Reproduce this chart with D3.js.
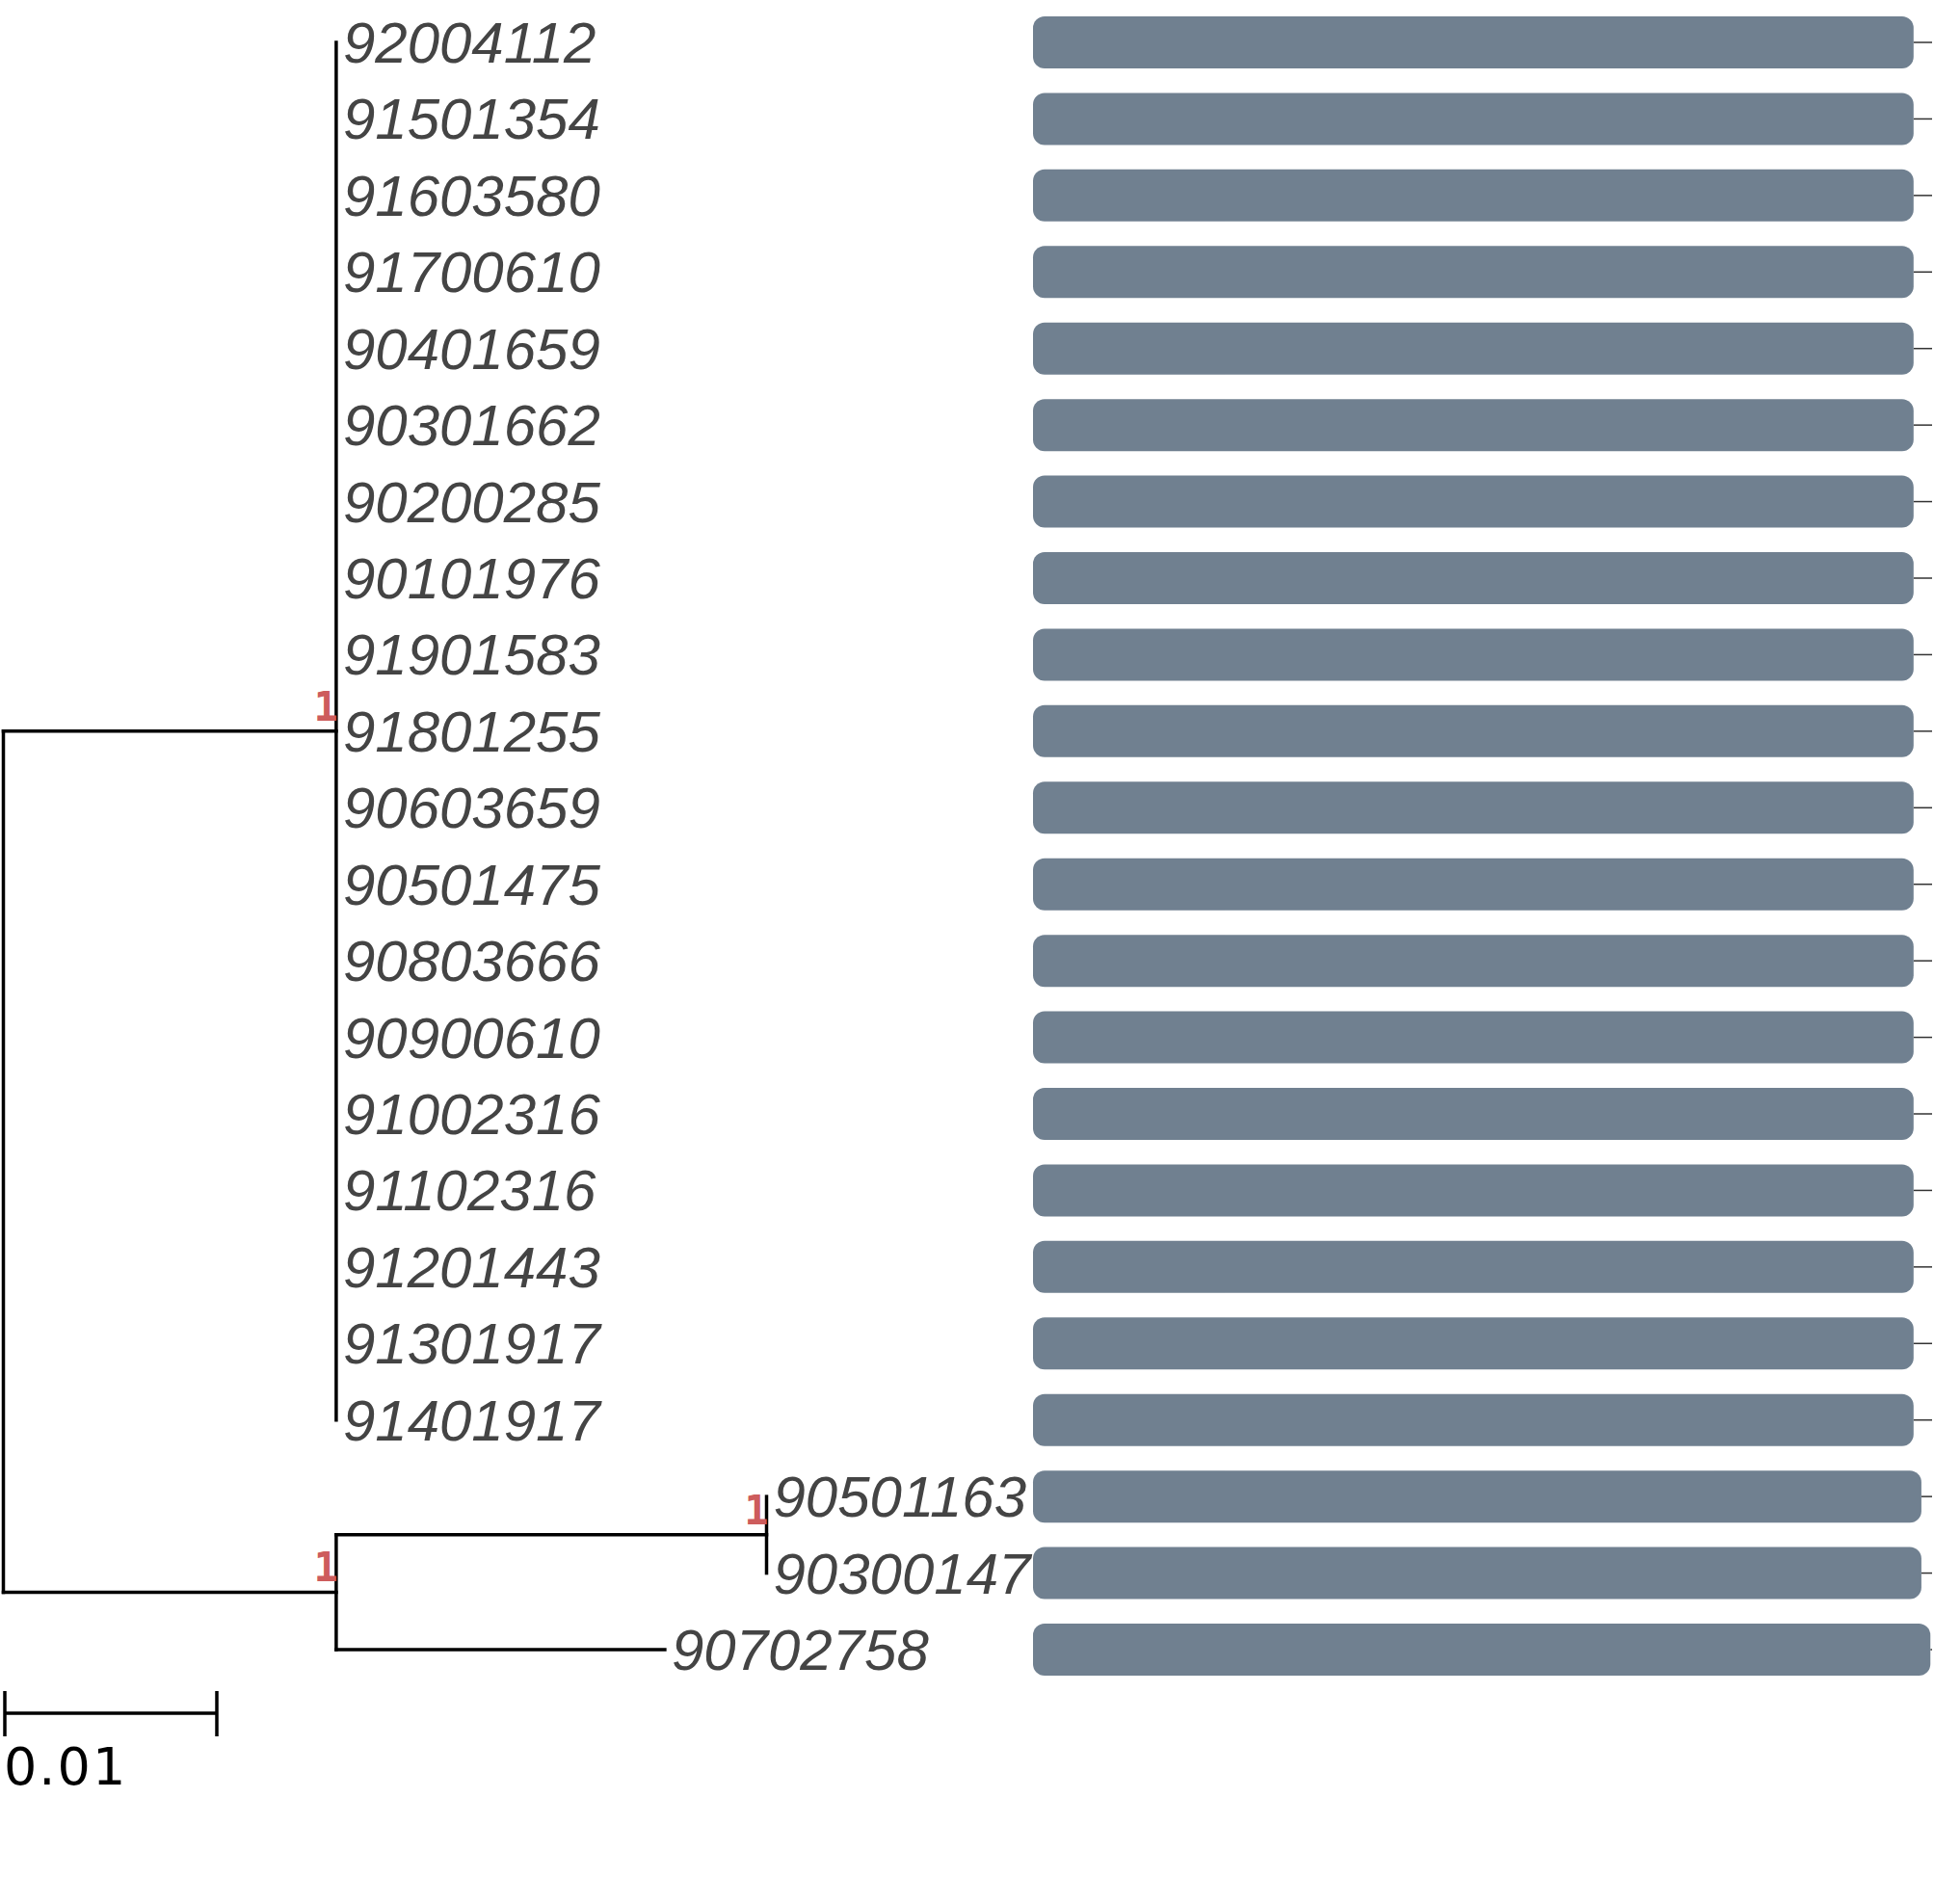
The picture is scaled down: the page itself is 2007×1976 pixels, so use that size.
<!DOCTYPE html>
<html>
<head>
<meta charset="utf-8">
<script src="https://cdn.jsdelivr.net/npm/d3@7"></script>
<style>
  html, body { margin: 0; padding: 0; background: #fff; }
</style>
</head>
<body>
<div id="root"></div>
<script>
// tips from top to bottom
var tipLabels = ['92004112', '91501354', '91603580', '91700610', '90401659', '90301662',
  '90200285', '90101976', '91901583', '91801255', '90603659', '90501475', '90803666',
  '90900610', '91002316', '91102316', '91201443', '91301917', '91401917',
  '90501163', '90300147', '90702758'];

// tree as parent table (internal nodes first), branch lengths in substitutions/site
var nodeIds = ['root', 'A', 'B', 'C'].concat(tipLabels);
var nodeParents = ['', 'root', 'root', 'B',
  'A', 'A', 'A', 'A', 'A', 'A', 'A', 'A', 'A', 'A', 'A', 'A', 'A', 'A', 'A', 'A', 'A', 'A', 'A',
  'C', 'C', 'B'];
var branchLengths = [0, 0.0157, 0.0157, 0.0203,
  0, 0, 0, 0, 0, 0, 0, 0, 0, 0, 0, 0, 0, 0, 0, 0, 0, 0, 0,
  0, 0, 0.0155];

// node support labels
var supportNodes = ['A', 'B', 'C'];
var supportValues = [1, 1, 1];

// bar values per tip (same order as tipLabels)
var barValues = [1466, 1466, 1466, 1466, 1466, 1466, 1466, 1466, 1466, 1466, 1466, 1466,
  1466, 1466, 1466, 1466, 1466, 1466, 1466, 1479, 1479, 1494];

var scaleBarLength = 0.01;

var w = 2007, h = 1976;

var svg = d3.select('#root').append('svg')
  .attr('width', w)
  .attr('height', h)
  .style('display', 'block');

svg.append('rect').attr('width', w).attr('height', h).attr('fill', '#fff');

var table = nodeIds.map(function(d, i) {
  return { id: d, parent: nodeParents[i], len: branchLengths[i] };
});

var tree = d3.stratify()
  .id(function(d) { return d.id; })
  .parentId(function(d) { return d.parent || null; })(table);

var xScale = d3.scaleLinear().domain([0, 0.01]).range([3.5, 223.5]);
var yScale = d3.scaleLinear().domain([0, tipLabels.length - 1]).range([44, 1712]);
var barScale = d3.scaleLinear().domain([0, 1500]).range([1072, 2007]);

// x = cumulative branch length, y = tip order / mean of children
tree.eachBefore(function(n) {
  n.dist = (n.parent ? n.parent.dist : 0) + n.data.len;
});
tree.eachAfter(function(n) {
  if (!n.children) n.row = tipLabels.indexOf(n.id);
  else n.row = d3.mean(n.children, function(c) { return c.row; });
});

var g = svg.append('g');

// horizontal branches
g.selectAll('line.hbranch')
  .data(tree.descendants().filter(function(n) { return n.parent && n.data.len > 0; }))
  .enter().append('line')
  .attr('class', 'hbranch')
  .attr('x1', function(n) { return xScale(n.parent.dist); })
  .attr('x2', function(n) { return xScale(n.dist); })
  .attr('y1', function(n) { return yScale(n.row); })
  .attr('y2', function(n) { return yScale(n.row); })
  .attr('stroke', '#000')
  .attr('stroke-width', 3.5)
  .attr('stroke-linecap', 'square');

// vertical connectors
g.selectAll('line.vbranch')
  .data(tree.descendants().filter(function(n) { return n.children; }))
  .enter().append('line')
  .attr('class', 'vbranch')
  .attr('x1', function(n) { return xScale(n.dist); })
  .attr('x2', function(n) { return xScale(n.dist); })
  .attr('y1', function(n) { return yScale(d3.min(n.children, function(c) { return c.row; })); })
  .attr('y2', function(n) { return yScale(d3.max(n.children, function(c) { return c.row; })); })
  .attr('stroke', '#000')
  .attr('stroke-width', 3.5)
  .attr('stroke-linecap', 'square');

// support values
g.selectAll('text.support')
  .data(supportNodes)
  .enter().append('text')
  .attr('class', 'support')
  .attr('x', function(d) { return xScale(tree.find(function(n) { return n.id === d; }).dist) + 2; })
  .attr('y', function(d) { return yScale(tree.find(function(n) { return n.id === d; }).row) - 11; })
  .attr('text-anchor', 'end')
  .style('font-family', '"DejaVu Sans Mono", monospace')
  .style('font-weight', 'bold')
  .style('font-size', '42px')
  .style('fill', '#CD5C5C')
  .text(function(d, i) { return supportValues[i]; });

// tip labels
g.selectAll('text.tip')
  .data(tree.leaves())
  .enter().append('text')
  .attr('class', 'tip')
  .attr('x', function(n) { return xScale(n.dist) + 7; })
  .attr('y', function(n) { return yScale(n.row) + 21; })
  .style('font-family', '"Liberation Sans", Arial, sans-serif')
  .style('font-style', 'italic')
  .style('font-size', '60px')
  .style('fill', '#444')
  .text(function(n) { return n.id; });

// bars
var bars = svg.append('g');
bars.selectAll('line.bar-guide')
  .data(barValues)
  .enter().append('line')
  .attr('class', 'bar-guide')
  .attr('x1', function(d) { return barScale(d); })
  .attr('x2', 2005)
  .attr('y1', function(d, i) { return yScale(i); })
  .attr('y2', function(d, i) { return yScale(i); })
  .attr('stroke', '#333')
  .attr('stroke-width', 1.5);

bars.selectAll('rect.bar')
  .data(barValues)
  .enter().append('rect')
  .attr('class', 'bar')
  .attr('x', barScale(0))
  .attr('y', function(d, i) { return yScale(i) - 27; })
  .attr('width', function(d) { return barScale(d) - barScale(0); })
  .attr('height', 54)
  .attr('rx', 12)
  .attr('ry', 12)
  .attr('fill', '#708090');

// scale bar
var sb = svg.append('g');
var sbY = 1778;
sb.append('line')
  .attr('x1', xScale(0) + 1.5).attr('x2', xScale(scaleBarLength) + 1.5)
  .attr('y1', sbY).attr('y2', sbY)
  .attr('stroke', '#000').attr('stroke-width', 3.5);
[0, scaleBarLength].forEach(function(v) {
  sb.append('line')
    .attr('x1', xScale(v) + 1.5).attr('x2', xScale(v) + 1.5)
    .attr('y1', sbY - 23).attr('y2', sbY + 24)
    .attr('stroke', '#000').attr('stroke-width', 3.5);
});
sb.append('text')
  .attr('x', 4)
  .attr('y', 1852)
  .style('font-family', '"DejaVu Sans", sans-serif')
  .style('font-size', '54px')
  .style('letter-spacing', '2px')
  .style('fill', '#000')
  .text(scaleBarLength);
</script>
</body>
</html>
